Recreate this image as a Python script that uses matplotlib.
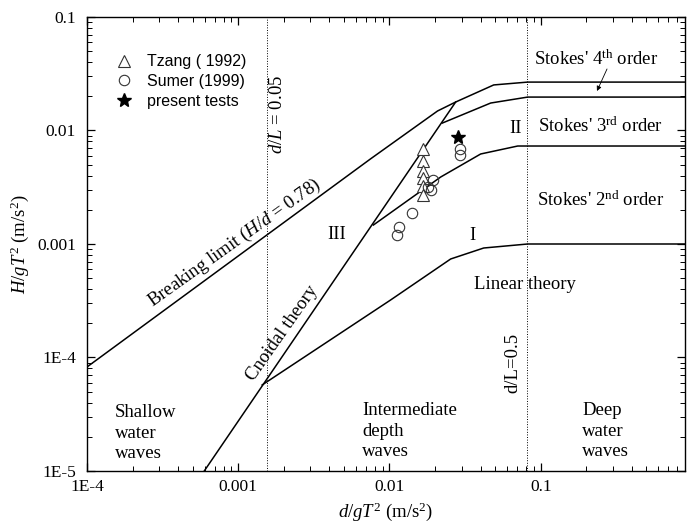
import numpy as np
import matplotlib
matplotlib.use("Agg")
import matplotlib.pyplot as plt
from matplotlib.ticker import FixedLocator, FixedFormatter, LogLocator, NullFormatter

plt.rcParams['font.family'] = ['Liberation Serif', 'DejaVu Serif']
plt.rcParams['mathtext.fontset'] = 'custom'
plt.rcParams['mathtext.rm'] = 'Liberation Serif'
plt.rcParams['mathtext.it'] = 'Liberation Serif:italic'
plt.rcParams['mathtext.bf'] = 'Liberation Serif:bold'

# region boundaries (d/gT^2, H/gT^2)
breakX = [1e-4, 0.00748, 0.0208, 0.0274, 0.0489, 0.082, 0.9]
breakY = [8.25e-5, 0.00561, 0.01486, 0.01782, 0.0252, 0.0267, 0.0267]

cnoidalX = [5.96e-4, 0.0274]
cnoidalY = [1e-5, 0.01782]

linearX = [0.00144, 0.01017, 0.0254, 0.0420, 0.082, 0.9]
linearY = [5.73e-5, 3.21e-4, 7.38e-4, 9.22e-4, 1.0e-3, 1.0e-3]

stokes23X = [0.00783, 0.0218, 0.0401, 0.0705, 0.9]
stokes23Y = [0.00147, 0.00389, 0.00621, 0.00730, 0.00730]

stokes34X = [0.0224, 0.0467, 0.082, 0.9]
stokes34Y = [0.01164, 0.01746, 0.0197, 0.0197]

# d/L limits
dL005 = 0.00155
dL05 = 0.081

# data points
tzangX = [0.01656, 0.01656, 0.01656, 0.01656, 0.01656, 0.01656]
tzangY = [0.00687, 0.00538, 0.00440, 0.00381, 0.00324, 0.00270]

sumerX = [0.0193, 0.0181, 0.0187, 0.0142, 0.01148, 0.0113, 0.0291, 0.0291]
sumerY = [0.00366, 0.00318, 0.00299, 0.00188, 0.00141, 0.00120, 0.00687, 0.00608]

presentX = [0.0282]
presentY = [0.00877]

xTicks = [1e-4, 1e-3, 1e-2, 1e-1]
xTickLabels = ["1E-4", "0.001", "0.01", "0.1"]
yTicks = [1e-5, 1e-4, 1e-3, 1e-2, 1e-1]
yTickLabels = ["1E-5", "1E-4", "0.001", "0.01", "0.1"]

fig = plt.figure(figsize=(6.89, 5.26), dpi=100)
ax = fig.add_axes([87 / 689, 55 / 526, 598 / 689, 454 / 526])

lineKw = dict(color='black', linewidth=1.1)
ax.plot(breakX, breakY, **lineKw)
ax.plot(cnoidalX, cnoidalY, **lineKw)
ax.plot(linearX, linearY, **lineKw)
ax.plot(stokes23X, stokes23Y, **lineKw)
ax.plot(stokes34X, stokes34Y, **lineKw)

ax.axvline(dL005, color='black', linestyle=':', linewidth=0.7)
ax.axvline(dL05, color='black', linestyle=':', linewidth=0.7)

ax.plot(tzangX, tzangY, linestyle='none', marker='^', markersize=9,
        markerfacecolor='white', markeredgecolor='#333333', markeredgewidth=0.8,
        label='Tzang ( 1992)')
ax.plot(sumerX, sumerY, linestyle='none', marker='o', markersize=7.5,
        markerfacecolor='none', markeredgecolor='#333333', markeredgewidth=0.8,
        label='Sumer (1999)')
ax.plot(presentX, presentY, linestyle='none', marker='*', markersize=10,
        color='black', label='present tests')

ax.set_xscale('log')
ax.set_yscale('log')
ax.set_xlim(1e-4, 0.9)
ax.set_ylim(1e-5, 0.1)

ax.xaxis.set_major_locator(FixedLocator(xTicks))
ax.xaxis.set_major_formatter(FixedFormatter(xTickLabels))
ax.yaxis.set_major_locator(FixedLocator(yTicks))
ax.yaxis.set_major_formatter(FixedFormatter(yTickLabels))
ax.xaxis.set_minor_locator(LogLocator(base=10, subs=np.arange(2, 10)))
ax.yaxis.set_minor_locator(LogLocator(base=10, subs=np.arange(2, 10)))
ax.xaxis.set_minor_formatter(NullFormatter())
ax.yaxis.set_minor_formatter(NullFormatter())

ax.tick_params(which='both', direction='in', top=True, right=True, labelsize=12.5)
ax.tick_params(axis='x', pad=6)
ax.tick_params(axis='y', pad=8)
ax.tick_params(which='major', length=6, width=0.9)
ax.tick_params(which='minor', length=3.5, width=0.7)
for sp in ax.spines.values():
    sp.set_linewidth(1.0)

ax.set_xlabel(r"$d/gT^2$ (m/s$^2$)", fontsize=13.5, labelpad=4)
ax.set_ylabel(r"$H/gT^2$ (m/s$^2$)", fontsize=13.5, labelpad=4)

leg = ax.legend(loc='upper left', bbox_to_anchor=(0.0477, 0.918), frameon=False,
                handlelength=1.0, handletextpad=0.95, labelspacing=0.3,
                borderpad=0, borderaxespad=0, prop={'family': 'Liberation Sans', 'size': 11.5})

tKw = dict(transform=ax.transAxes, fontsize=13.5)
ax.text(0.2475, 0.502, r"Breaking limit ($H/d$ = 0.78)", rotation=35.5,
        rotation_mode='anchor', ha='center', va='center', **tKw)
ax.text(0.326, 0.304, "Cnoidal theory", rotation=55,
        rotation_mode='anchor', ha='center', va='center', **tKw)
ax.text(0.319, 0.786, r"$d/L$ = 0.05", rotation=90, ha='center', va='center', **tKw)
ax.text(0.712, 0.238, "d/L=0.5", rotation=90, ha='center', va='center', **tKw)
ax.text(0.7475, 0.9075, r"Stokes' 4$^{\mathregular{th}}$ order", ha='left', va='center', **tKw)
ax.text(0.754, 0.760, r"Stokes' 3$^{\mathregular{rd}}$ order", ha='left', va='center', **tKw)
ax.text(0.7525, 0.597, r"Stokes' 2$^{\mathregular{nd}}$ order", ha='left', va='center', **tKw)
ax.text(0.717, 0.755, "II", ha='center', va='center', **tKw)
ax.text(0.645, 0.518, "I", ha='center', va='center', **tKw)
ax.text(0.418, 0.520, "III", ha='center', va='center', **tKw)
ax.text(0.647, 0.410, "Linear theory", ha='left', va='center', **tKw)
ax.text(0.0468, 0.0837, "Shallow\nwater\nwaves", ha='left', va='center', linespacing=1.25, **tKw)
ax.text(0.46, 0.088, "Intermediate\ndepth\nwaves", ha='left', va='center', linespacing=1.25, **tKw)
ax.text(0.828, 0.088, "Deep\nwater\nwaves", ha='left', va='center', linespacing=1.25, **tKw)

ax.annotate("", xy=(0.8528, 0.837), xytext=(0.8696, 0.8855),
            xycoords='axes fraction', textcoords='axes fraction',
            arrowprops=dict(arrowstyle='-|>', color='black', lw=0.6,
                            mutation_scale=7, shrinkA=0, shrinkB=0))

fig.savefig("out.png", dpi=100)
